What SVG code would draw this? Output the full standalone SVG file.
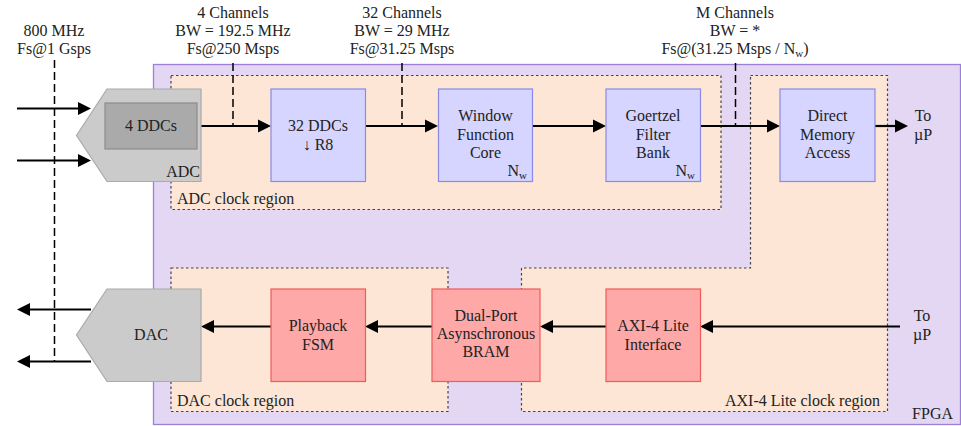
<svg xmlns="http://www.w3.org/2000/svg" width="961" height="426" viewBox="0 0 961 426" font-family="'Liberation Serif', 'DejaVu Serif', serif">
<style>
text{font-family:'Liberation Serif','DejaVu Serif','Noto Serif',serif;font-size:16px;fill:#222}
.c{text-anchor:middle}
.e{text-anchor:end}
.sub{font-size:11px}
.region{fill:#fde6d6;stroke:#444;stroke-width:1.2;stroke-dasharray:2.5 2.5}
.blue{fill:#d5d5ff;stroke:#8a8ae6;stroke-width:1.2}
.red{fill:#ffa8a8;stroke:#f05a5a;stroke-width:1.2}
.conv{fill:#cbcbcb;stroke:#aaa;stroke-width:1.2}
.arr{stroke:#000;stroke-width:2.2;fill:none;marker-end:url(#ah)}
.dash{stroke:#000;stroke-width:1.5;fill:none;stroke-dasharray:8 4}
</style>
<defs>
<marker id="ah" markerUnits="userSpaceOnUse" markerWidth="14" markerHeight="14" refX="2" refY="7" orient="auto">
<path d="M0,0.5 L13,7 L0,13.5 z" fill="#000"/>
</marker>
</defs>
<g id="fpga">
<rect x="153.5" y="64.5" width="807" height="360" fill="#e3d7f3" stroke="#9b7fd9" stroke-width="1.3"/>
<text class="e" x="953" y="419">FPGA</text>
</g>
<g id="adc-region">
<rect class="region" x="171" y="75.5" width="550" height="134"/>
<text x="177" y="204">ADC clock region</text>
</g>
<g id="dac-region">
<rect class="region" x="171" y="268" width="277" height="143.5"/>
<text x="177" y="406">DAC clock region</text>
</g>
<g id="axi-region">
<path class="region" d="M750.5,75.5 H887.5 V411.5 H521.5 V268 H750.5 Z"/>
<text class="e" x="880" y="406">AXI-4 Lite clock region</text>
</g>
<g id="connectors">
<line class="arr" x1="17" y1="108.5" x2="80" y2="108.5"/>
<line class="arr" x1="17" y1="160.5" x2="80" y2="160.5"/>
<line class="arr" x1="91" y1="309.5" x2="28" y2="309.5"/>
<line class="arr" x1="91" y1="361.5" x2="28" y2="361.5"/>
<line class="arr" x1="198" y1="126" x2="260" y2="126"/>
<line class="arr" x1="365" y1="126" x2="427" y2="126"/>
<line class="arr" x1="532" y1="126" x2="595" y2="126"/>
<line class="arr" x1="700" y1="126" x2="769" y2="126"/>
<line class="arr" x1="875" y1="126" x2="897" y2="126"/>
<line class="arr" x1="900" y1="326.5" x2="711" y2="326.5"/>
<line class="arr" x1="606" y1="326.5" x2="551" y2="326.5"/>
<line class="arr" x1="432" y1="326.5" x2="376" y2="326.5"/>
<line class="arr" x1="271" y1="326.5" x2="212" y2="326.5"/>
<line class="dash" x1="54.5" y1="60" x2="54.5" y2="361"/>
<line class="dash" x1="233" y1="63" x2="233" y2="126"/>
<line class="dash" x1="402" y1="63" x2="402" y2="126"/>
<line class="dash" x1="735.5" y1="63" x2="735.5" y2="126"/>
</g>
<g id="label-800">
<text class="c" x="54" y="36">800 MHz</text>
<text class="c" x="54" y="54">Fs@1 Gsps</text>
</g>
<g id="label-4ch">
<text class="c" x="233" y="18">4 Channels</text>
<text class="c" x="233" y="36">BW = 192.5 MHz</text>
<text class="c" x="233" y="54">Fs@250 Msps</text>
</g>
<g id="label-32ch">
<text class="c" x="402" y="18">32 Channels</text>
<text class="c" x="402" y="36">BW = 29 MHz</text>
<text class="c" x="402" y="54">Fs@31.25 Msps</text>
</g>
<g id="label-mch">
<text class="c" x="735" y="18">M Channels</text>
<text class="c" x="735" y="36">BW = *</text>
<text class="c" x="735" y="54">Fs@(31.25 Msps / N<tspan class="sub" dy="3">w</tspan><tspan dy="-3">)</tspan></text>
</g>
<g id="adc">
<path class="conv" d="M107,89 H201 V181.5 H107 L76.5,135.5 Z"/>
<text class="e" x="200" y="177">ADC</text>
</g>
<g id="ddc4">
<rect x="105" y="103" width="92" height="46" fill="#aaa" stroke="#8c8c8c" stroke-width="1.2"/>
<text class="c" x="151" y="131">4 DDCs</text>
</g>
<g id="ddc32">
<rect class="blue" x="271" y="89" width="94.5" height="92.5"/>
<text class="c" x="318" y="131">32 DDCs</text>
<text class="c" x="318" y="150">↓ R8</text>
</g>
<g id="window">
<rect class="blue" x="438.5" y="89" width="94" height="92.5"/>
<text class="c" x="485.5" y="121">Window</text>
<text class="c" x="485.5" y="140">Function</text>
<text class="c" x="485.5" y="158">Core</text>
<text class="e" x="527" y="176">N<tspan class="sub" dy="3">w</tspan></text>
</g>
<g id="goertzel">
<rect class="blue" x="606" y="89" width="94.5" height="92.5"/>
<text class="c" x="653" y="121">Goertzel</text>
<text class="c" x="653" y="140">Filter</text>
<text class="c" x="653" y="158">Bank</text>
<text class="e" x="695" y="176">N<tspan class="sub" dy="3">w</tspan></text>
</g>
<g id="dma">
<rect class="blue" x="780" y="89" width="95" height="92.5"/>
<text class="c" x="827.5" y="121">Direct</text>
<text class="c" x="827.5" y="140">Memory</text>
<text class="c" x="827.5" y="158">Access</text>
</g>
<g id="to-up-top">
<text class="c" x="923" y="121">To</text>
<text class="c" x="923" y="140">µP</text>
</g>
<g id="dac">
<path class="conv" d="M107,289 H201 V381.5 H107 L76.5,335 Z"/>
<text class="c" x="151" y="340">DAC</text>
</g>
<g id="playback">
<rect class="red" x="271" y="289" width="94.5" height="92.5"/>
<text class="c" x="318" y="331">Playback</text>
<text class="c" x="318" y="350">FSM</text>
</g>
<g id="bram">
<rect class="red" x="432" y="289" width="108" height="92.5"/>
<text class="c" x="486" y="321">Dual-Port</text>
<text class="c" x="486" y="339">Asynschronous</text>
<text class="c" x="486" y="357">BRAM</text>
</g>
<g id="axi">
<rect class="red" x="606" y="289" width="94.5" height="92.5"/>
<text class="c" x="653" y="331">AXI-4 Lite</text>
<text class="c" x="653" y="350">Interface</text>
</g>
<g id="to-up-bottom">
<text class="c" x="922" y="321">To</text>
<text class="c" x="922" y="340">µP</text>
</g>
</svg>
